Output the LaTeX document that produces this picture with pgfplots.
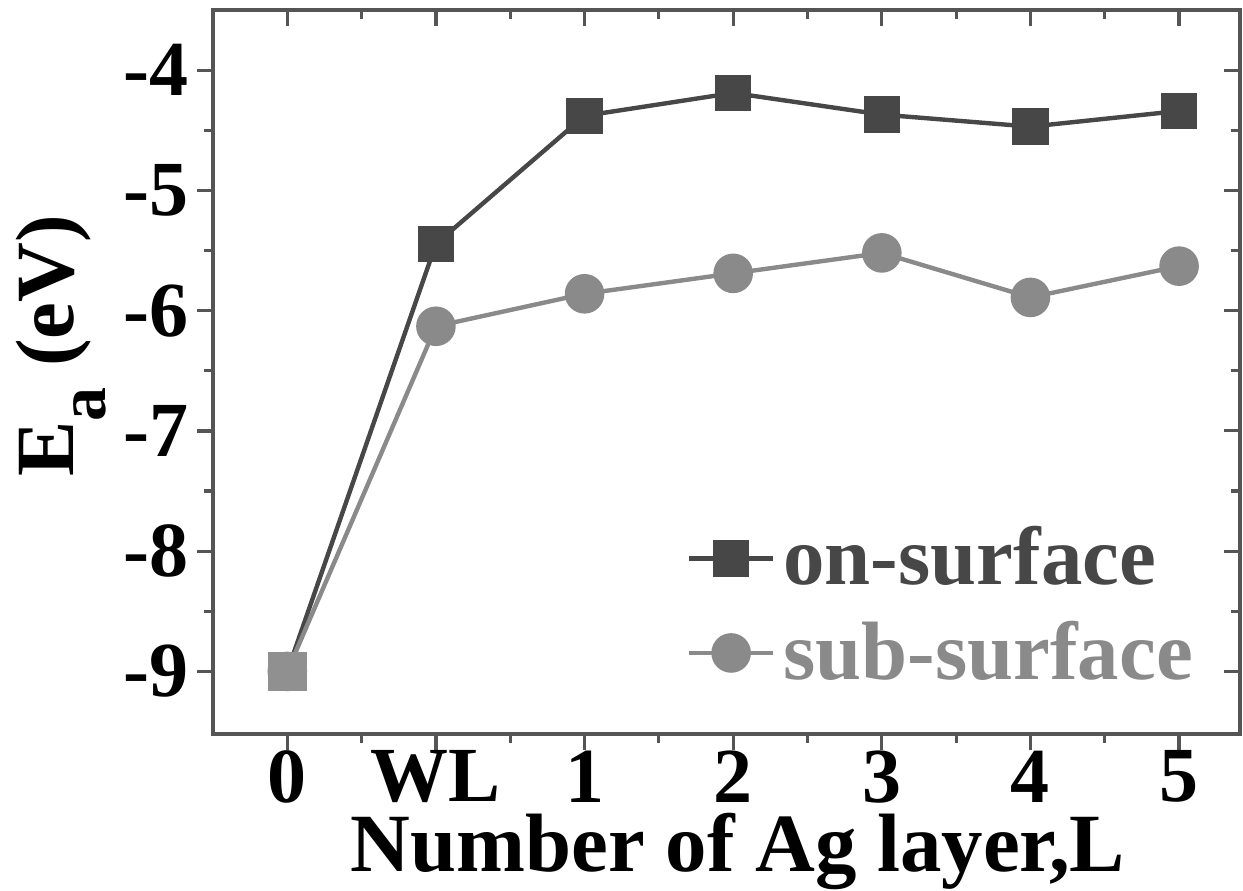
\documentclass[border=0pt]{standalone}
\usepackage{fontspec}
\setmainfont{Liberation Serif}
\usepackage{pgfplots}
\pgfplotsset{compat=1.18}
\definecolor{onc}{HTML}{474747}
\definecolor{subc}{HTML}{8A8A8A}
\definecolor{zc}{HTML}{909090}
\definecolor{axc}{HTML}{555555}
\newcommand{\lblfont}{\fontsize{20.7}{20.7}\selectfont\bfseries}
\begin{document}
\begin{tikzpicture}
\pgfplotsset{
  common/.style={
    scale only axis, width=256.75pt, height=181pt,
    xmin=-0.5, xmax=6.41, ymin=-9.52, ymax=-3.5,
    xtick={0,...,6}, ytick={-9,...,-4},
    minor x tick num=1, minor y tick num=1,
    axis line style={axc, line width=0.9pt},
    every tick/.style={axc, line width=0.8pt},
    major tick length=4pt, minor tick length=2.2pt,
  }
}
\begin{axis}[common,
  tick align=outside, xtick pos=left, ytick pos=left,
  xticklabels={0,WL,1,2,3,4,5},
  yticklabels={-9,-8,-7,-6,-5,-4},
  ticklabel style={font=\fontsize{19.5}{19.5}\selectfont\bfseries},
  xticklabel style={inner sep=0pt, yshift=0pt},
  yticklabel style={inner sep=0pt, xshift=-2pt},
  xlabel={Number of Ag layer,L},
  ylabel={E\raisebox{-8pt}{\fontsize{17}{17}\selectfont a} (eV)},
  every axis x label/.style={at={(rel axis cs:0.511,0)}, anchor=base, yshift=-34.5pt, inner sep=0pt, font=\lblfont},
  every axis y label/.style={at={(rel axis cs:-0.1363,0.536)}, anchor=base, rotate=90, inner sep=0pt, font=\lblfont},
  legend style={draw=none, fill=none, at={(rel axis cs:0.4606,0.177)}, anchor=west, inner sep=0pt, row sep=3.5pt,
    font=\lblfont, nodes={inner sep=2pt}},
  legend cell align=left,
  legend image code/.code={\draw[mark repeat=2,mark phase=2] plot coordinates {(0cm,0cm) (0.37cm,0cm) (0.74cm,0cm)};},
]
\coordinate (bl) at (rel axis cs:0,0);
\coordinate (tr) at (rel axis cs:1,1);
\addplot[onc, line width=1.1pt, mark=square*, mark size=4pt, mark options={fill=onc, draw=onc}]
  coordinates {(0,-9.0) (1,-5.445) (2,-4.38) (3,-4.19) (4,-4.37) (5,-4.47) (6,-4.34)};
\addlegendentry{\textcolor{onc}{on-surface}}
\addplot[subc, line width=1.1pt, mark=*, mark size=4.4pt, mark options={fill=subc, draw=subc}]
  coordinates {(0,-9.0) (1,-6.13) (2,-5.86) (3,-5.69) (4,-5.52) (5,-5.89) (6,-5.63)};
\addlegendentry{\textcolor{subc}{sub-surface}}
\addplot[forget plot, only marks, mark=square*, mark size=4.6pt, mark options={fill=zc, draw=zc, line width=0.4pt}]
  coordinates {(0,-9.0)};
\end{axis}
\begin{axis}[common, tick align=inside, xtick pos=right, ytick pos=right,
  xticklabels={}, yticklabels={}]
\end{axis}
\pgfresetboundingbox
\path ([shift={(-53.25pt,-39.25pt)}]bl) rectangle ([shift={(0.75pt,2.5pt)}]tr);
\end{tikzpicture}
\end{document}
